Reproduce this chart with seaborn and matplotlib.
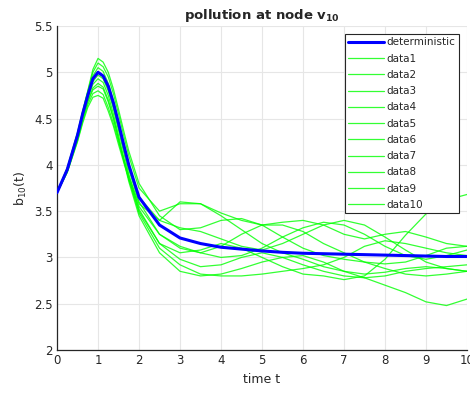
import matplotlib
matplotlib.use('Agg')
import matplotlib.pyplot as plt
import seaborn as sns

# time points (denser around the peak)
t = [0, 0.25, 0.5, 0.625, 0.75, 0.875, 1, 1.125, 1.25, 1.375, 1.5, 1.625, 1.75, 2, 2.5, 3,
     3.5, 4, 4.5, 5, 5.5, 6, 6.5, 7, 7.5, 8, 8.5, 9, 9.5, 10]

deterministic = [3.70, 3.95, 4.32, 4.55, 4.75, 4.93, 5.00, 4.96, 4.85, 4.67, 4.45, 4.22, 4.00,
                 3.65, 3.35, 3.21, 3.15, 3.11, 3.09, 3.07, 3.055, 3.045, 3.04, 3.035, 3.03,
                 3.025, 3.02, 3.015, 3.01, 3.01]

data1 = [3.70, 3.97, 4.35, 4.58, 4.80, 5.03, 5.15, 5.11, 5.00, 4.82, 4.60, 4.37, 4.15,
         3.80, 3.45, 3.30, 3.32, 3.40, 3.42, 3.35, 3.22, 3.10, 3.02, 2.98, 2.95, 2.93,
         2.95, 3.02, 3.10, 3.12]
data2 = [3.70, 3.96, 4.34, 4.57, 4.79, 5.00, 5.10, 5.06, 4.95, 4.77, 4.55, 4.32, 4.10,
         3.75, 3.50, 3.58, 3.58, 3.45, 3.30, 3.15, 3.05, 2.98, 2.90, 2.85, 2.82, 2.84,
         2.88, 2.90, 2.88, 2.85]
data3 = [3.70, 3.96, 4.33, 4.56, 4.77, 4.96, 5.05, 5.01, 4.88, 4.69, 4.45, 4.22, 4.00,
         3.65, 3.40, 3.32, 3.28, 3.20, 3.12, 3.08, 3.15, 3.25, 3.35, 3.40, 3.35, 3.22,
         3.08, 2.95, 2.88, 2.85]
data4 = [3.70, 3.95, 4.32, 4.55, 4.75, 4.93, 5.00, 4.96, 4.82, 4.63, 4.40, 4.17, 3.95,
         3.60, 3.25, 3.12, 3.05, 3.00, 3.02, 3.10, 3.22, 3.32, 3.38, 3.35, 3.25, 3.12,
         3.02, 2.98, 3.02, 3.08]
data5 = [3.70, 3.94, 4.31, 4.53, 4.73, 4.90, 4.97, 4.93, 4.80, 4.61, 4.38, 4.14, 3.90,
         3.52, 3.15, 2.98, 2.90, 2.92, 3.00, 3.05, 3.00, 2.92, 2.85, 2.80, 2.78, 2.80,
         2.85, 2.88, 2.90, 2.92]
data6 = [3.70, 3.94, 4.30, 4.52, 4.72, 4.87, 4.93, 4.89, 4.75, 4.55, 4.32, 4.08, 3.85,
         3.48, 3.10, 2.92, 2.82, 2.80, 2.80, 2.82, 2.85, 2.88, 2.92, 3.00, 3.12, 3.18,
         3.15, 3.10, 3.05, 3.02]
data7 = [3.70, 3.93, 4.28, 4.50, 4.69, 4.83, 4.88, 4.84, 4.70, 4.51, 4.28, 4.05, 3.82,
         3.45, 3.05, 2.85, 2.80, 2.82, 2.88, 2.95, 3.00, 3.02, 2.95, 2.85, 2.78, 2.70,
         2.62, 2.52, 2.48, 2.55]
data8 = [3.70, 3.93, 4.28, 4.49, 4.68, 4.81, 4.85, 4.82, 4.68, 4.50, 4.28, 4.06, 3.85,
         3.50, 3.15, 3.05, 3.08, 3.15, 3.10, 3.00, 2.90, 2.82, 2.80, 2.76, 2.80, 2.98,
         3.24, 3.47, 3.62, 3.68]
data9 = [3.70, 3.92, 4.26, 4.47, 4.65, 4.77, 4.80, 4.76, 4.62, 4.45, 4.25, 4.06, 3.88,
         3.58, 3.40, 3.60, 3.58, 3.48, 3.40, 3.35, 3.38, 3.40, 3.35, 3.25, 3.20, 3.25,
         3.28, 3.22, 3.15, 3.12]
data10 = [3.70, 3.92, 4.25, 4.45, 4.62, 4.73, 4.75, 4.72, 4.58, 4.42, 4.22, 4.03, 3.85,
          3.55, 3.25, 3.10, 3.05, 3.12, 3.25, 3.35, 3.35, 3.28, 3.15, 3.05, 2.95, 2.88,
          2.82, 2.80, 2.82, 2.85]

runs = [data1, data2, data3, data4, data5, data6, data7, data8, data9, data10]

sns.set_style('whitegrid')
plt.rcParams['font.family'] = ['DejaVu Sans']

fig = plt.figure(figsize=(4.7, 3.94), dpi=100)
ax = fig.add_axes([0.1213, 0.1117, 0.8723, 0.8223])

sns.lineplot(x=t, y=deterministic, color='#0000ff', lw=2.2, label='deterministic', ax=ax, zorder=3)
for i, run in enumerate(runs):
    sns.lineplot(x=t, y=run, color='#00ff00', lw=0.9, alpha=0.8, label='data' + str(i + 1), ax=ax, zorder=2)

ax.set_xlim(0, 10)
ax.set_ylim(2, 5.5)
ax.set_xticks(range(0, 11))
ax.set_yticks([2, 2.5, 3, 3.5, 4, 4.5, 5, 5.5])
ax.set_yticklabels(['2', '2.5', '3', '3.5', '4', '4.5', '5', '5.5'])
ax.grid(True, color='#e6e6e6', lw=0.8)
ax.tick_params(direction='in', length=3, colors='#262626', labelsize=8.5, pad=3)
for side in ['top', 'right']:
    ax.spines[side].set_visible(False)
for side in ['left', 'bottom']:
    ax.spines[side].set_color('#262626')
    ax.spines[side].set_linewidth(0.9)

ax.set_xlabel('time t', fontsize=9, color='#262626')
ax.set_ylabel('b$_{10}$(t)', fontsize=9, color='#262626')
ax.set_title(r'pollution at node $\mathbf{v_{10}}$', fontsize=9.5, fontweight='bold', pad=5)

leg = ax.legend(loc='upper right', fontsize=7.5, frameon=True, fancybox=False, framealpha=1,
                edgecolor='#262626', handlelength=3.4, labelspacing=0.6, borderaxespad=0.8,
                handletextpad=0.3, borderpad=0.3)
leg.get_frame().set_linewidth(0.8)

fig.savefig('out.png', dpi=100)
